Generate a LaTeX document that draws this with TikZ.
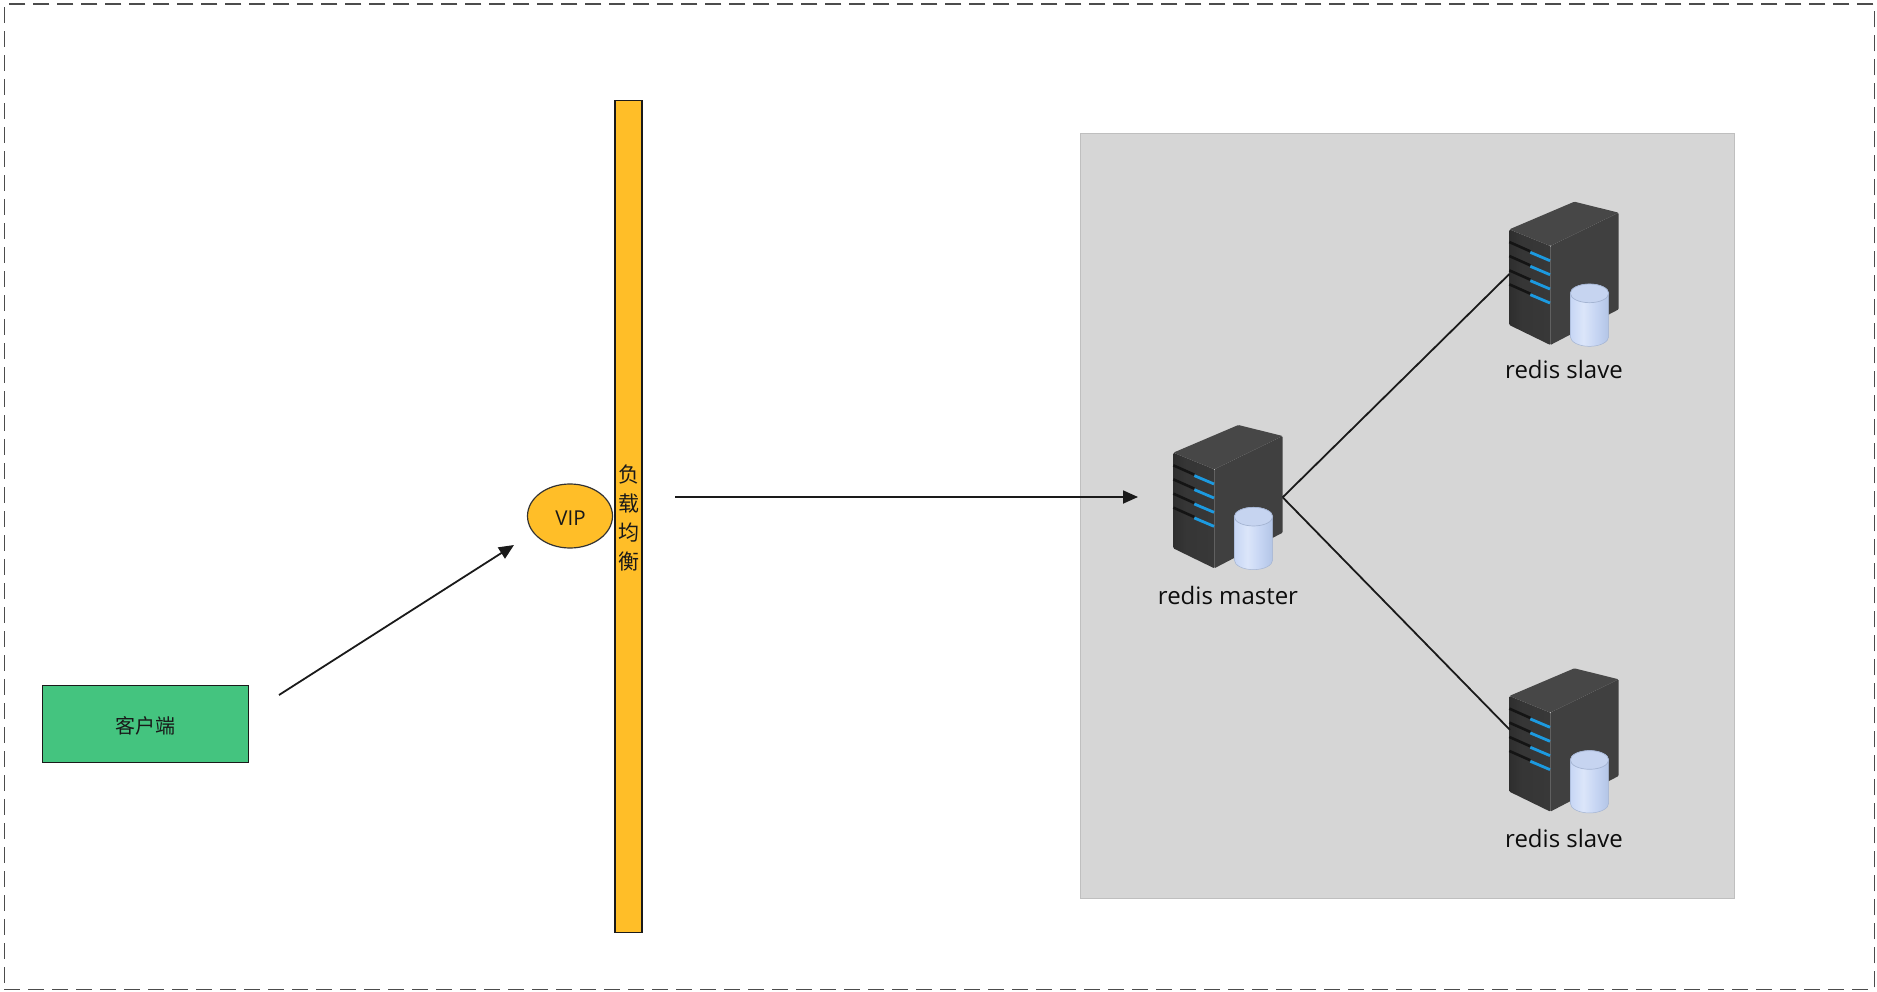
\documentclass[tikz,border=0pt]{standalone}
\usepackage{fontspec}
\setmainfont{Open Sans}
\newfontfamily\cjk{Noto Sans CJK SC}
\usetikzlibrary{arrows.meta,shapes.geometric}
\definecolor{barorange}{HTML}{FFBE28}
\definecolor{clientgreen}{HTML}{44C47F}
\definecolor{panelgray}{HTML}{D6D6D6}
\definecolor{inkline}{HTML}{1A1A1A}
\definecolor{cyltop}{HTML}{C6D4F0}
\definecolor{cylrim}{HTML}{A4B4D2}
\definecolor{ledblue}{HTML}{1C9AE0}
\pgfdeclarehorizontalshading{cylshade}{100bp}{
  rgb(0bp)=(0.73,0.79,0.91);
  rgb(25bp)=(0.78,0.84,0.96);
  rgb(42bp)=(0.86,0.90,0.98);
  rgb(60bp)=(0.77,0.83,0.95);
  rgb(75bp)=(0.70,0.77,0.90);
  rgb(100bp)=(0.66,0.73,0.87)}
\pgfdeclarehorizontalshading{leftface}{100bp}{
  rgb(0bp)=(0.19,0.19,0.19);
  rgb(25bp)=(0.18,0.18,0.18);
  rgb(40bp)=(0.21,0.21,0.21);
  rgb(75bp)=(0.22,0.22,0.22);
  rgb(85bp)=(0.16,0.16,0.16);
  rgb(100bp)=(0.15,0.15,0.15)}
\tikzset{
  outer/.style={draw=black!70,line width=1.8pt,dash pattern=on 16pt off 8pt},
  boxed/.style={draw=inkline,line width=1.1pt,inner sep=0pt,outer sep=0pt},
  flow/.style={draw=inkline,line width=1.8pt,-{Triangle[length=15pt,width=13pt]}},
  link/.style={draw=inkline,line width=1.8pt},
  srvlabel/.style={font=\fontsize{24}{28}\selectfont,text=black!95,inner sep=0pt},
  pics/server/.style={code={
    \begin{scope}[x=0.3333pt,y=-0.3333pt]
      \shade[shading=leftface,rounded corners=1pt]
        (70,128) -- (193,178) -- (193,475) -- (70,415) -- cycle;
      \fill[black!75,rounded corners=1pt] (193,178) -- (398,78) -- (398,368) -- (193,475) -- cycle;
      \fill[black!72,rounded corners=1pt]
        (70,128) -- (265,45) -- (398,78) -- (193,178) -- cycle;
      \foreach \yy in {0,42,85,127}{
        \draw[black!92,line width=2.6pt] (70,{166+\yy}) -- (133,{194+\yy});
        \draw[ledblue,line width=2.8pt] (133,{197+\yy}) -- (192,{222+\yy});
      }
      \shade[shading=cylshade,draw=cylrim,line width=0.5pt]
        (253,320) -- (253,450) arc[start angle=180,end angle=0,x radius=57.5,y radius=29]
        -- (368,320) arc[start angle=0,end angle=-180,x radius=57.5,y radius=28] -- cycle;
      \fill[cyltop,draw=cylrim,line width=0.7pt] (310.5,320) ellipse[x radius=57.5,y radius=28];
      \coordinate (-lport) at (70,262);
      \coordinate (-lhigh) at (72,230);
      \coordinate (-rport) at (398,262);
    \end{scope}
  }}
}
\begin{document}
\begin{tikzpicture}[x=1pt,y=-1pt]
\useasboundingbox (0,0) rectangle (1877,992);
\fill[white] (0,0) rectangle (1877,992);
\node[outer,minimum width=1870pt,minimum height=985pt,inner sep=0pt,anchor=north west] (frame) at (3.5,3.5) {};
\node[draw=black!25,line width=1pt,fill=panelgray,minimum width=654pt,minimum height=764.5pt,inner sep=0pt,anchor=north west] (panel) at (1079.5,133.5) {};

\node[boxed,fill=clientgreen,minimum width=206pt,minimum height=77pt,anchor=north west] (client) at (42.5,685.5) {};
\node[font=\cjk\fontsize{20}{24}\selectfont,text=black!90,inner sep=0pt] (clientlabel) at (145.5,726) {客户端};
\node[boxed,fill=barorange,minimum width=27pt,minimum height=832pt,anchor=north west] (bar) at (615,100.5) {};
\node[font=\cjk\fontsize{21}{28.7}\selectfont,text=black!90,align=center,inner sep=0pt] (barlabel) at (628.5,518) {负\\载\\均\\衡};
\node[draw=black!80,line width=1.2pt,fill=barorange,ellipse,minimum width=85pt,minimum height=64pt,inner sep=0pt] (vip) at (570,516) {};
\node[font=\fontsize{20.5}{24}\selectfont,text=black!90,inner sep=0pt] (viplabel) at (570.5,518) {VIP};

\pic (m) at (1150,410) {server};
\pic (sa) at (1486,186.7) {server};
\pic (sb) at (1486,653.3) {server};

\node[srvlabel] (mlabel) at (1228,595) {redis master};
\node[srvlabel] (salabel) at (1564,369) {redis slave};
\node[srvlabel] (sblabel) at (1564,838) {redis slave};

\coordinate (a1s) at (279,695);
\coordinate (a1e) at (514,545);
\coordinate (a2s) at (675,497);
\coordinate (a2e) at (1138,497);
\draw[flow] (a1s) -- (a1e);
\draw[flow] (a2s) -- (a2e);
\draw[link] (m-rport) -- (sa-lport);
\draw[link] (m-rport) -- (sb-lhigh);
\end{tikzpicture}
\end{document}
